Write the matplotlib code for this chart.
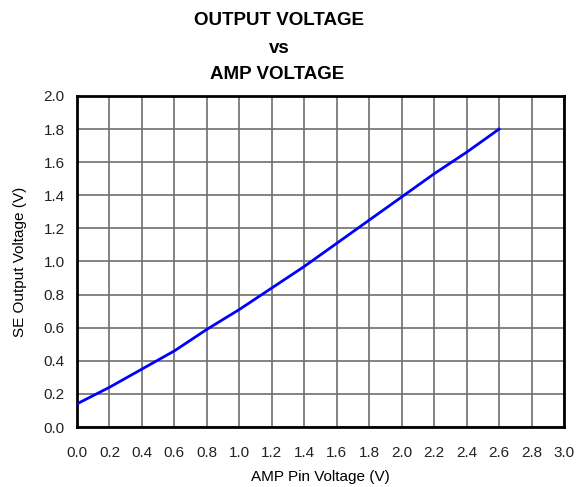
import numpy as np
import matplotlib
matplotlib.use("Agg")
import matplotlib.pyplot as plt

plt.rcParams['font.family'] = ['Liberation Sans', 'DejaVu Sans']

# данные
amp_v = [0.0, 0.2, 0.4, 0.6, 0.8, 1.0, 1.2, 1.4, 1.6, 1.8, 2.0, 2.2, 2.4, 2.6]
se_out_v = [0.14, 0.24, 0.35, 0.46, 0.59, 0.71, 0.84, 0.97, 1.11, 1.25, 1.39, 1.53, 1.66, 1.80]

x_ticks = np.round(np.arange(0, 3.01, 0.2), 1)
y_ticks = np.round(np.arange(0, 2.01, 0.2), 1)

fig = plt.figure(figsize=(5.8, 4.87), dpi=100)
ax = fig.add_axes([0.1328, 0.1232, 0.8396, 0.6797])

ax.plot(amp_v, se_out_v, color='#0000ff', lw=2, zorder=3)

ax.set_xlim(0, 3.0)
ax.set_ylim(0, 2.0)
ax.set_xticks(x_ticks)
ax.set_yticks(y_ticks)
ax.set_xticklabels([f"{v:.1f}" for v in x_ticks])
ax.set_yticklabels([f"{v:.1f}" for v in y_ticks])
ax.tick_params(length=0, labelsize=11, colors='#222222')
ax.tick_params(axis='x', pad=14)
ax.tick_params(axis='y', pad=9)
ax.grid(True, color='#6e6e6e', lw=1.2)
for s in ax.spines.values():
    s.set_linewidth(2)
    s.set_color('black')

ax.set_xlabel("AMP Pin Voltage (V)", fontsize=11, labelpad=7)
ax.set_ylabel("SE Output Voltage (V)", fontsize=11, labelpad=12)

fig.text(0.481, 0.958, "OUTPUT VOLTAGE", ha='center', va='center', fontsize=13.5, fontweight='bold')
fig.text(0.481, 0.901, "vs", ha='center', va='center', fontsize=13.5, fontweight='bold')
fig.text(0.478, 0.846, "AMP VOLTAGE", ha='center', va='center', fontsize=13.5, fontweight='bold')

fig.savefig("out.png", dpi=100)
